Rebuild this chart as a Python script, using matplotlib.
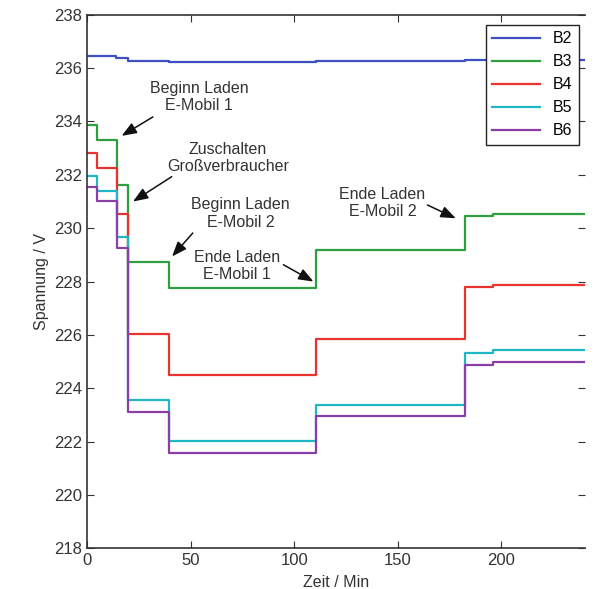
import matplotlib
matplotlib.use("Agg")
import matplotlib.pyplot as plt

plt.rcParams["font.family"] = ["Liberation Sans", "DejaVu Sans"]

# step times (min) and voltage levels (V); each level holds until the next time
t_b2 = [0, 14, 19.8, 39.7, 110.7, 182.4, 241]
v_b2 = [236.45, 236.38, 236.28, 236.22, 236.25, 236.3, 236.3]

t_b3 = [0, 4.8, 14.5, 19.8, 39.7, 110.7, 182.4, 196, 241]
v_b3 = [233.88, 233.3, 231.6, 228.72, 227.75, 229.2, 230.46, 230.55, 230.55]

t_b4 = [0, 4.8, 14.5, 19.8, 39.7, 110.7, 182.4, 196, 241]
v_b4 = [232.8, 232.25, 230.52, 226.02, 224.5, 225.83, 227.79, 227.88, 227.88]

t_b5 = [0, 4.8, 14.5, 19.8, 39.7, 110.7, 182.4, 196, 241]
v_b5 = [231.97, 231.4, 229.66, 223.56, 222.03, 223.38, 225.33, 225.42, 225.42]

t_b6 = [0, 4.8, 14.5, 19.8, 39.7, 110.7, 182.4, 196, 241]
v_b6 = [231.56, 231.0, 229.25, 223.1, 221.59, 222.96, 224.87, 225.0, 225.0]

series = [("B2", t_b2, v_b2, "#3f4fc4"),
          ("B3", t_b3, v_b3, "#2e9e3e"),
          ("B4", t_b4, v_b4, "#e8332e"),
          ("B5", t_b5, v_b5, "#1fb7c6"),
          ("B6", t_b6, v_b6, "#8a3fa8")]

x_ticks = [0, 50, 100, 150, 200]
y_ticks = [218, 220, 222, 224, 226, 228, 230, 232, 234, 236, 238]

# (text, text position, arrow tip) in data coordinates
notes = [("Beginn Laden\nE-Mobil 1", (54, 234.92), (16.6, 233.46)),
         ("Zuschalten\nGroßverbraucher", (68, 232.63), (22.1, 231.0)),
         ("Beginn Laden\nE-Mobil 2", (74, 230.55), (41.0, 228.94)),
         ("Ende Laden\nE-Mobil 1", (72.5, 228.59), (109.3, 228.0)),
         ("Ende Laden\nE-Mobil 2", (142.6, 230.95), (178.1, 230.37))]
arrow_start = [(31.7, 234.17), (40.8, 231.93), (51.0, 229.82),
               (94.8, 228.63), (164.4, 230.87)]

fig = plt.figure(figsize=(5.98, 5.89), dpi=100)
ax = fig.add_axes([0.146, 0.069, 0.832, 0.906])

for name, t, v, c in series:
    ax.step(t, v, where="post", color=c, lw=1.6, label=name)

for (txt, pos, tip), start in zip(notes, arrow_start):
    ax.text(pos[0], pos[1], txt, ha="center", va="center", fontsize=11.5,
            color="#333333", linespacing=1.2)
    ax.annotate("", xy=tip, xytext=start,
                arrowprops=dict(arrowstyle="-|>,head_length=0.9,head_width=0.35",
                                color="#111111", lw=1.1,
                                shrinkA=0, shrinkB=0))

ax.set_xlim(0, 240.5)
ax.set_ylim(218, 238)
ax.set_xticks(x_ticks)
ax.set_yticks(y_ticks)
ax.tick_params(direction="in", top=True, right=True, labelsize=12,
               colors="#333333", length=5)
ax.spines["right"].set_visible(False)
for s in ["left", "top", "bottom"]:
    ax.spines[s].set_color("#333333")
    ax.spines[s].set_linewidth(1.2)
ax.set_xlabel("Zeit / Min", fontsize=11.5, color="#333333", labelpad=5)
ax.set_ylabel("Spannung / V", fontsize=11.5, color="#333333", labelpad=4)

leg = ax.legend(loc="upper right", bbox_to_anchor=(0.988, 0.981), fontsize=11.5,
                handlelength=3.0, labelspacing=0.5, borderpad=0.4,
                borderaxespad=0, fancybox=False, framealpha=1)
leg.get_frame().set_edgecolor("#222222")
leg.get_frame().set_linewidth(1.0)

fig.savefig("out.png", dpi=100)
